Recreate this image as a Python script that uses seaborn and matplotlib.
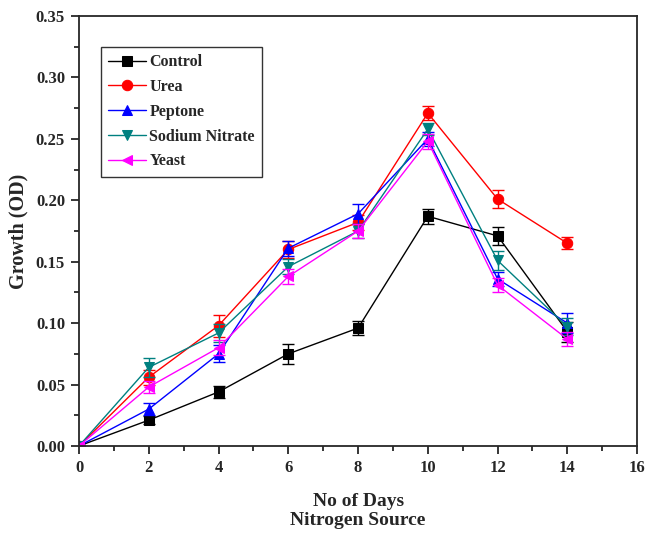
import matplotlib
matplotlib.use("Agg")
import matplotlib.pyplot as plt
from matplotlib.ticker import MultipleLocator, FormatStrFormatter
import seaborn as sns
import pandas as pd

days = [0, 2, 4, 6, 8, 10, 12, 14]

control = [0.000, 0.021, 0.044, 0.075, 0.096, 0.187, 0.171, 0.093]
urea = [0.000, 0.056, 0.098, 0.160, 0.182, 0.271, 0.201, 0.165]
peptone = [0.000, 0.030, 0.075, 0.161, 0.189, 0.250, 0.136, 0.100]
sodium_nitrate = [0.000, 0.064, 0.092, 0.146, 0.175, 0.258, 0.151, 0.097]
yeast = [0.000, 0.048, 0.080, 0.138, 0.175, 0.248, 0.131, 0.087]

control_err = [0.001, 0.003, 0.005, 0.008, 0.006, 0.006, 0.007, 0.008]
urea_err = [0.001, 0.006, 0.009, 0.007, 0.006, 0.006, 0.007, 0.005]
peptone_err = [0.001, 0.005, 0.007, 0.006, 0.008, 0.006, 0.006, 0.008]
sodium_nitrate_err = [0.001, 0.008, 0.007, 0.006, 0.006, 0.005, 0.008, 0.007]
yeast_err = [0.001, 0.005, 0.006, 0.006, 0.006, 0.006, 0.006, 0.006]

series = {
    "Control": (control, control_err, "black", "s"),
    "Urea": (urea, urea_err, "red", "o"),
    "Peptone": (peptone, peptone_err, "blue", "^"),
    "Sodium Nitrate": (sodium_nitrate, sodium_nitrate_err, "#008080", "v"),
    "Yeast": (yeast, yeast_err, "magenta", "<"),
}

sns.set_style("ticks")
plt.rcParams['font.family'] = ['Liberation Serif', 'DejaVu Serif']
plt.rcParams['font.weight'] = 'bold'

fig = plt.figure(figsize=(6.46, 5.36), dpi=100)
ax = fig.add_axes([0.1223, 0.168, 0.864, 0.802])

for name, (vals, errs, color, marker) in series.items():
    df = pd.DataFrame({"day": days, "od": vals})
    sns.lineplot(data=df, x="day", y="od", ax=ax, color=color, marker=marker,
                 markersize=7.5, markeredgecolor=color, linewidth=1, label=name)
    ax.errorbar(days, vals, yerr=errs, fmt="none", ecolor=color, elinewidth=1,
                capsize=4, capthick=1)

ax.set_xlim(0, 16)
ax.set_ylim(0, 0.35)
ax.xaxis.set_major_locator(MultipleLocator(2))
ax.xaxis.set_minor_locator(MultipleLocator(1))
ax.yaxis.set_major_locator(MultipleLocator(0.05))
ax.yaxis.set_minor_locator(MultipleLocator(0.025))
ax.yaxis.set_major_formatter(FormatStrFormatter('%.2f'))
ax.tick_params(which='major', length=6, width=1.3, labelsize=12, direction='out', pad=4)
ax.tick_params(which='minor', length=3.5, width=1.3, direction='out')
for lab in ax.get_xticklabels() + ax.get_yticklabels():
    lab.set_fontweight('bold')
for sp in ax.spines.values():
    sp.set_linewidth(1.3)
    sp.set_visible(True)

ax.set_xlabel("No of Days\nNitrogen Source", fontsize=14, fontweight='bold',
              labelpad=12, linespacing=1.2)
ax.set_ylabel("Growth (OD)", fontsize=14.5, fontweight='bold', labelpad=5)

leg = ax.legend(loc='upper left', bbox_to_anchor=(0.039, 0.928), borderaxespad=0,
                fontsize=11.5, frameon=True, fancybox=False, edgecolor='black',
                handlelength=2.4, borderpad=0.45, labelspacing=0.55, handletextpad=0.2)
leg.get_frame().set_linewidth(1)
for t in leg.get_texts():
    t.set_fontweight('bold')

fig.savefig("out.png", dpi=100)
